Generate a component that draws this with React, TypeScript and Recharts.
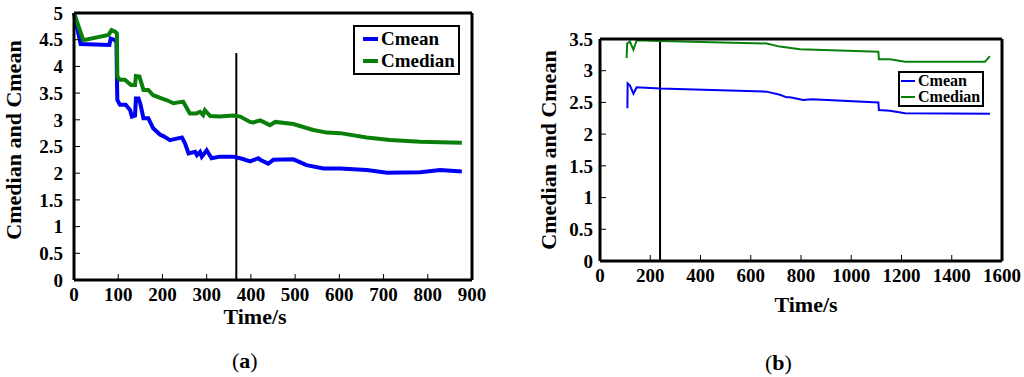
import React from "react";
import {
  Legend,
  Line,
  LineChart,
  ReferenceLine,
  XAxis,
  YAxis,
} from "recharts";

const FONT =
  "'Liberation Serif', Tinos, 'Times New Roman', Times, 'Nimbus Roman', FreeSerif, serif";
const BLUE = "#0000f5";
const GREEN = "#0a800a";

// (a) values
const meanTimeA = [0, 15, 80, 83, 93, 96, 97, 98, 104, 117, 127, 131, 138, 140, 146, 150, 157, 168, 179, 195, 203, 217, 244, 251, 259, 274, 278, 285, 289, 300, 311, 330, 360, 380, 398, 417, 421, 439, 451, 496, 526, 564, 602, 662, 708, 783, 828, 877];
const meanValA = [5, 4.42, 4.4, 4.52, 4.49, 4.45, 3.81, 3.37, 3.28, 3.28, 3.18, 3.06, 3.08, 3.4, 3.4, 3.3, 3.03, 3.03, 2.84, 2.72, 2.69, 2.62, 2.67, 2.56, 2.37, 2.4, 2.34, 2.4, 2.31, 2.43, 2.28, 2.31, 2.31, 2.27, 2.22, 2.28, 2.25, 2.18, 2.25, 2.26, 2.15, 2.09, 2.09, 2.06, 2.01, 2.02, 2.06, 2.03];
const medianTimeA = [0, 21, 78, 85, 93, 97, 98, 104, 115, 129, 138, 140, 148, 157, 168, 179, 198, 209, 225, 247, 262, 277, 285, 292, 296, 308, 330, 360, 376, 398, 405, 421, 443, 455, 496, 541, 572, 602, 662, 715, 783, 877];
const medianValA = [5, 4.49, 4.59, 4.68, 4.65, 4.62, 3.81, 3.75, 3.75, 3.65, 3.65, 3.82, 3.81, 3.56, 3.56, 3.46, 3.4, 3.37, 3.31, 3.34, 3.12, 3.12, 3.15, 3.09, 3.18, 3.07, 3.06, 3.08, 3.06, 2.96, 2.95, 2.99, 2.9, 2.96, 2.92, 2.81, 2.76, 2.75, 2.67, 2.62, 2.59, 2.57];
const xTicksA = [0, 100, 200, 300, 400, 500, 600, 700, 800, 900];
const yTicksA = [0, 0.5, 1, 1.5, 2, 2.5, 3, 3.5, 4, 4.5, 5];
const markerA = { x: 367, top: 4.25 };

// (b)
const meanTimeB = [109, 110, 119, 133, 146, 239, 663, 716, 743, 756, 809, 843, 1108, 1110, 1154, 1214, 1552];
const meanValB = [2.41, 2.8, 2.77, 2.64, 2.74, 2.72, 2.67, 2.62, 2.58, 2.58, 2.54, 2.55, 2.5, 2.38, 2.37, 2.33, 2.32];
const medianTimeB = [106, 108, 119, 133, 146, 239, 663, 716, 796, 1108, 1110, 1154, 1214, 1532, 1552];
const medianValB = [3.2, 3.43, 3.46, 3.33, 3.48, 3.47, 3.43, 3.38, 3.34, 3.3, 3.18, 3.18, 3.14, 3.14, 3.23];
const xTicksB = [0, 200, 400, 600, 800, 1000, 1200, 1400, 1600];
const yTicksB = [0, 0.5, 1, 1.5, 2, 2.5, 3, 3.5];
const markerB = 239;

const toPoints = (ts: number[], vs: number[]) =>
  ts.map((t, i) => ({ t, v: vs[i] }));

const tickStyle = (size: number) => ({
  fill: "#000",
  fontSize: size,
  fontWeight: "bold",
  fontFamily: FONT,
});

const EmptyTick = () => <g />;

function LegendBox(props: any) {
  const { payload, fontSize, lineW, lineLen, padding, lineHeight, gap } = props;
  return (
    <div
      style={{
        border: "2px solid #000",
        background: "#fff",
        padding,
        fontFamily: FONT,
        fontWeight: "bold",
        fontSize,
        lineHeight,
        whiteSpace: "nowrap",
      }}
    >
      {(payload || []).map((p: any) => (
        <div key={p.value} style={{ display: "flex", alignItems: "center" }}>
          <span
            style={{
              display: "inline-block",
              flexShrink: 0,
              width: lineLen,
              height: lineW,
              background: p.color,
              marginRight: gap,
            }}
          />
          {p.value}
        </div>
      ))}
    </div>
  );
}

const yLabel = (dx: number, cy: number) => (props: any) => {
  const vb = props.viewBox;
  const x = vb.x + dx;
  return (
    <text
      x={x}
      y={cy}
      transform={`rotate(-90 ${x} ${cy})`}
      textAnchor="middle"
      dominantBaseline="central"
      fontFamily={FONT}
      fontWeight="bold"
      fontSize={22}
      fill="#000"
    >
      Cmedian and Cmean
    </text>
  );
};

const xLabel = (dx: number, cy: number) => (props: any) => {
  const vb = props.viewBox;
  return (
    <text
      x={vb.x + dx}
      y={cy}
      textAnchor="middle"
      dominantBaseline="central"
      fontFamily={FONT}
      fontWeight="bold"
      fontSize={22}
      fill="#000"
    >
      Time/s
    </text>
  );
};

const axisLine = { stroke: "#000", strokeWidth: 3 };
const tickLine = { stroke: "#000", strokeWidth: 1 };

function Caption({ letter, left, top }: { letter: string; left: number; top: number }) {
  return (
    <div
      style={{
        position: "absolute",
        left,
        top,
        fontFamily: FONT,
        fontSize: 22,
        color: "#000",
      }}
    >
      (<b>{letter}</b>)
    </div>
  );
}

export default function App() {
  return (
    <div
      style={{
        position: "absolute",
        left: 0,
        top: 0,
        width: 1024,
        height: 377,
        background: "#fff",
      }}
    >
      <div style={{ position: "absolute", left: 0, top: 0 }}>
        <LineChart
          width={520}
          height={377}
          margin={{ top: 12, right: 47, left: 0, bottom: 67 }}
        >
          <XAxis
            xAxisId="b"
            type="number"
            dataKey="t"
            domain={[0, 900]}
            ticks={xTicksA}
            interval={0}
            height={30}
            axisLine={axisLine}
            tickLine={tickLine}
            tickSize={-6}
            tickMargin={14}
            tick={tickStyle(19)}
            label={xLabel(181, 316)}
          />
          <XAxis
            xAxisId="t"
            orientation="top"
            type="number"
            domain={[0, 900]}
            ticks={xTicksA}
            interval={0}
            height={1}
            axisLine={axisLine}
            tickLine={tickLine}
            tickSize={-6}
            tick={EmptyTick}
          />
          <YAxis
            yAxisId="l"
            type="number"
            domain={[0, 5]}
            ticks={yTicksA}
            interval={0}
            width={74}
            axisLine={axisLine}
            tickLine={tickLine}
            tickSize={-6}
            tickMargin={17}
            tick={tickStyle(19)}
            label={yLabel(13, 140)}
          />
          <YAxis
            yAxisId="r"
            orientation="right"
            type="number"
            domain={[0, 5]}
            ticks={yTicksA}
            interval={0}
            width={1}
            axisLine={axisLine}
            tickLine={tickLine}
            tickSize={-6}
            tick={EmptyTick}
          />
          <ReferenceLine
            xAxisId="b"
            yAxisId="l"
            segment={[
              { x: markerA.x, y: 0 },
              { x: markerA.x, y: markerA.top },
            ]}
            stroke="#000"
            strokeWidth={2}
          />
          <Line
            xAxisId="b"
            yAxisId="l"
            data={toPoints(meanTimeA, meanValA)}
            dataKey="v"
            name="Cmean"
            stroke={BLUE}
            strokeWidth={4}
            dot={false}
            type="linear"
            isAnimationActive={false}
          />
          <Line
            xAxisId="b"
            yAxisId="l"
            data={toPoints(medianTimeA, medianValA)}
            dataKey="v"
            name="Cmedian"
            stroke={GREEN}
            strokeWidth={4}
            dot={false}
            type="linear"
            isAnimationActive={false}
          />
          <Legend
            layout="vertical"
            align="center"
            verticalAlign="middle"
            wrapperStyle={{ left: 353, top: 25, width: "auto", height: "auto" }}
            content={(p: any) => (
              <LegendBox
                {...p}
                fontSize={19}
                lineW={4}
                lineLen={15}
                gap={3}
                lineHeight={1.15}
                padding="1px 3px 1px 8px"
              />
            )}
          />
        </LineChart>
      </div>

      <div style={{ position: "absolute", left: 520, top: 0 }}>
        <LineChart
          width={504}
          height={377}
          margin={{ top: 38, right: 21, left: 0, bottom: 86 }}
        >
          <XAxis
            xAxisId="b"
            type="number"
            dataKey="t"
            domain={[0, 1600]}
            ticks={xTicksB}
            interval={0}
            height={30}
            axisLine={axisLine}
            tickLine={tickLine}
            tickSize={-6}
            tickMargin={14}
            tick={tickStyle(19)}
            label={xLabel(206, 304)}
          />
          <XAxis
            xAxisId="t"
            orientation="top"
            type="number"
            domain={[0, 1600]}
            ticks={xTicksB}
            interval={0}
            height={1}
            axisLine={axisLine}
            tickLine={tickLine}
            tickSize={-6}
            tick={EmptyTick}
          />
          <YAxis
            yAxisId="l"
            type="number"
            domain={[0, 3.5]}
            ticks={yTicksB}
            interval={0}
            width={80}
            axisLine={axisLine}
            tickLine={tickLine}
            tickSize={-6}
            tickMargin={13}
            tick={tickStyle(19)}
            label={yLabel(28, 150)}
          />
          <YAxis
            yAxisId="r"
            orientation="right"
            type="number"
            domain={[0, 3.5]}
            ticks={yTicksB}
            interval={0}
            width={1}
            axisLine={axisLine}
            tickLine={tickLine}
            tickSize={-6}
            tick={EmptyTick}
          />
          <ReferenceLine
            xAxisId="b"
            yAxisId="l"
            x={markerB}
            stroke="#000"
            strokeWidth={2}
          />
          <Line
            xAxisId="b"
            yAxisId="l"
            data={toPoints(meanTimeB, meanValB)}
            dataKey="v"
            name="Cmean"
            stroke={BLUE}
            strokeWidth={2}
            dot={false}
            type="linear"
            isAnimationActive={false}
          />
          <Line
            xAxisId="b"
            yAxisId="l"
            data={toPoints(medianTimeB, medianValB)}
            dataKey="v"
            name="Cmedian"
            stroke={GREEN}
            strokeWidth={2}
            dot={false}
            type="linear"
            isAnimationActive={false}
          />
          <Legend
            layout="vertical"
            align="center"
            verticalAlign="middle"
            wrapperStyle={{ left: 378, top: 71, width: "auto", height: "auto" }}
            content={(p: any) => (
              <LegendBox
                {...p}
                fontSize={16}
                lineW={2}
                lineLen={14}
                gap={3}
                lineHeight={1}
                padding="0px 2px 0px 1px"
              />
            )}
          />
        </LineChart>
      </div>

      <Caption letter="a" left={232} top={348} />
      <Caption letter="b" left={765} top={350} />
    </div>
  );
}
